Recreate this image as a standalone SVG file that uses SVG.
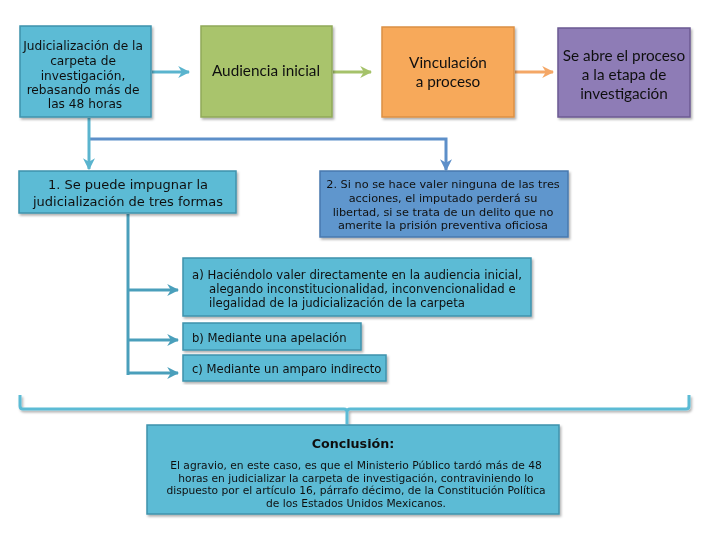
<svg xmlns="http://www.w3.org/2000/svg" width="720" height="540" viewBox="0 0 720 540">
<defs>
<filter id="sh" x="-5%" y="-5%" width="115%" height="120%">
<feDropShadow dx="1.5" dy="2" stdDeviation="1.2" flood-color="#000" flood-opacity="0.3"/>
</filter>
<marker id="aTeal" viewBox="0 0 10 10" refX="9" refY="5" markerWidth="4" markerHeight="4" orient="auto" markerUnits="strokeWidth">
<path d="M0,0 L10,5 L0,10 L3,5 Z" fill="#5AB4CE"/>
</marker>
<marker id="aGreen" viewBox="0 0 10 10" refX="9" refY="5" markerWidth="4" markerHeight="4" orient="auto" markerUnits="strokeWidth">
<path d="M0,0 L10,5 L0,10 L3,5 Z" fill="#A5C26A"/>
</marker>
<marker id="aOrange" viewBox="0 0 10 10" refX="9" refY="5" markerWidth="4" markerHeight="4" orient="auto" markerUnits="strokeWidth">
<path d="M0,0 L10,5 L0,10 L3,5 Z" fill="#F4A766"/>
</marker>
<marker id="aBlue" viewBox="0 0 10 10" refX="9" refY="5" markerWidth="4" markerHeight="4" orient="auto" markerUnits="strokeWidth">
<path d="M0,0 L10,5 L0,10 L3,5 Z" fill="#5D8FC9"/>
</marker>
<marker id="aDark" viewBox="0 0 10 10" refX="9" refY="5" markerWidth="4" markerHeight="4" orient="auto" markerUnits="strokeWidth">
<path d="M0,0 L10,5 L0,10 L3,5 Z" fill="#4A9FBB"/>
</marker>
</defs>
<style>
.teal{fill:#5BBBD5;stroke:#3F93AC;stroke-width:1.5}
.green{fill:#A9C46C;stroke:#90A958;stroke-width:1.5}
.orange{fill:#F7A95A;stroke:#DC9045;stroke-width:1.5}
.purple{fill:#8E7CB6;stroke:#6B5A92;stroke-width:1.5}
.blue{fill:#5F96CD;stroke:#4878AE;stroke-width:1.5}
.t{font-family:"DejaVu Sans",Verdana,sans-serif;fill:#111;}
.c{font-family:Lato,"Open Sans",sans-serif;fill:#111;font-size:15.3px;}
.ln{fill:none;stroke-width:3}
</style>

<g id="connectors">
<line class="ln" x1="152" y1="72" x2="189" y2="72" stroke="#5AB4CE" marker-end="url(#aTeal)"/>
<line class="ln" x1="333" y1="72" x2="371" y2="72" stroke="#A5C26A" marker-end="url(#aGreen)"/>
<line class="ln" x1="515" y1="72" x2="553" y2="72" stroke="#F4A766" marker-end="url(#aOrange)"/>
<polyline class="ln" points="89,139 446,139 446,170" stroke="#5D8FC9" marker-end="url(#aBlue)"/>
<line class="ln" x1="89" y1="118" x2="89" y2="169" stroke="#5AB4CE" marker-end="url(#aTeal)"/>
<line class="ln" x1="128" y1="214" x2="128" y2="375" stroke="#4A9FBB"/>
<line class="ln" x1="127" y1="290" x2="178" y2="290" stroke="#4A9FBB" marker-end="url(#aDark)"/>
<line class="ln" x1="127" y1="340" x2="178" y2="340" stroke="#4A9FBB" marker-end="url(#aDark)"/>
<line class="ln" x1="127" y1="373" x2="178" y2="373" stroke="#4A9FBB" marker-end="url(#aDark)"/>
<path d="M20,395 V406 Q20,409 23,409 H344 Q347,409 347,412 V424 M347,412 Q347,409 350,409 H686 Q689,409 689,406 V395" fill="none" stroke="#5BBBD5" stroke-width="3" filter="url(#sh)"/>
</g>

<g id="n1" filter="url(#sh)">
<rect class="teal" x="20" y="26" width="131" height="91"/>
<text class="t" font-size="12.2" text-anchor="middle">
<tspan x="85" y="50">Judicialización de la</tspan>
<tspan x="85" y="65">carpeta de</tspan>
<tspan x="85" y="80">investigación,</tspan>
<tspan x="85" y="94">rebasando más de</tspan>
<tspan x="85" y="108">las 48 horas</tspan>
</text>
</g>

<g id="n2" filter="url(#sh)">
<rect class="green" x="201" y="26" width="131" height="91"/>
<text class="c" x="266" y="76" text-anchor="middle">Audiencia inicial</text>
</g>

<g id="n3" filter="url(#sh)">
<rect class="orange" x="382" y="27" width="132" height="90"/>
<text class="c" text-anchor="middle"><tspan x="448" y="68">Vinculación</tspan><tspan x="448" y="87">a proceso</tspan></text>
</g>

<g id="n4" filter="url(#sh)">
<rect class="purple" x="558" y="28" width="132" height="89"/>
<text class="c" text-anchor="middle"><tspan x="624" y="61">Se abre el proceso</tspan><tspan x="624" y="80">a la etapa de</tspan><tspan x="624" y="99">investigación</tspan></text>
</g>

<g id="n5" filter="url(#sh)">
<rect class="teal" x="19" y="171" width="217" height="42"/>
<text class="t" font-size="13" text-anchor="middle"><tspan x="128" y="189">1. Se puede impugnar la</tspan><tspan x="128" y="206">judicialización de tres formas</tspan></text>
</g>

<g id="n6" filter="url(#sh)">
<rect class="blue" x="320" y="171" width="248" height="66"/>
<text class="t" font-size="11.3" text-anchor="middle"><tspan x="443" y="188">2. Si no se hace valer ninguna de las tres</tspan><tspan x="443" y="202">acciones, el imputado perderá su</tspan><tspan x="443" y="216">libertad, si se trata de un delito que no</tspan><tspan x="443" y="229">amerite la prisión preventiva oficiosa</tspan></text>
</g>

<g id="n7" filter="url(#sh)">
<rect class="teal" x="183" y="258" width="348" height="58"/>
<text class="t" font-size="11.7"><tspan x="192" y="279">a) Haciéndolo valer directamente en la audiencia inicial,</tspan><tspan x="209" y="293">alegando inconstitucionalidad, inconvencionalidad e</tspan><tspan x="209" y="307">ilegalidad de la judicialización de la carpeta</tspan></text>
</g>

<g id="n8" filter="url(#sh)">
<rect class="teal" x="183" y="323" width="178" height="27"/>
<text class="t" font-size="11.6" x="192" y="342">b) Mediante una apelación</text>
</g>

<g id="n9" filter="url(#sh)">
<rect class="teal" x="183" y="355" width="203" height="26"/>
<text class="t" font-size="11.6" x="192" y="373">c) Mediante un amparo indirecto</text>
</g>

<g id="n10" filter="url(#sh)">
<rect class="teal" x="147" y="425" width="412" height="89"/>
<text class="t" font-size="12.7" font-weight="bold" x="353" y="448" text-anchor="middle">Conclusión:</text>
<text class="t" font-size="10.7" text-anchor="middle"><tspan x="356" y="469">El agravio, en este caso, es que el Ministerio Público tardó más de 48</tspan><tspan x="356" y="482">horas en judicializar la carpeta de investigación, contraviniendo lo</tspan><tspan x="356" y="494">dispuesto por el artículo 16, párrafo décimo, de la Constitución Política</tspan><tspan x="356" y="507">de los Estados Unidos Mexicanos.</tspan></text>
</g>
</svg>
